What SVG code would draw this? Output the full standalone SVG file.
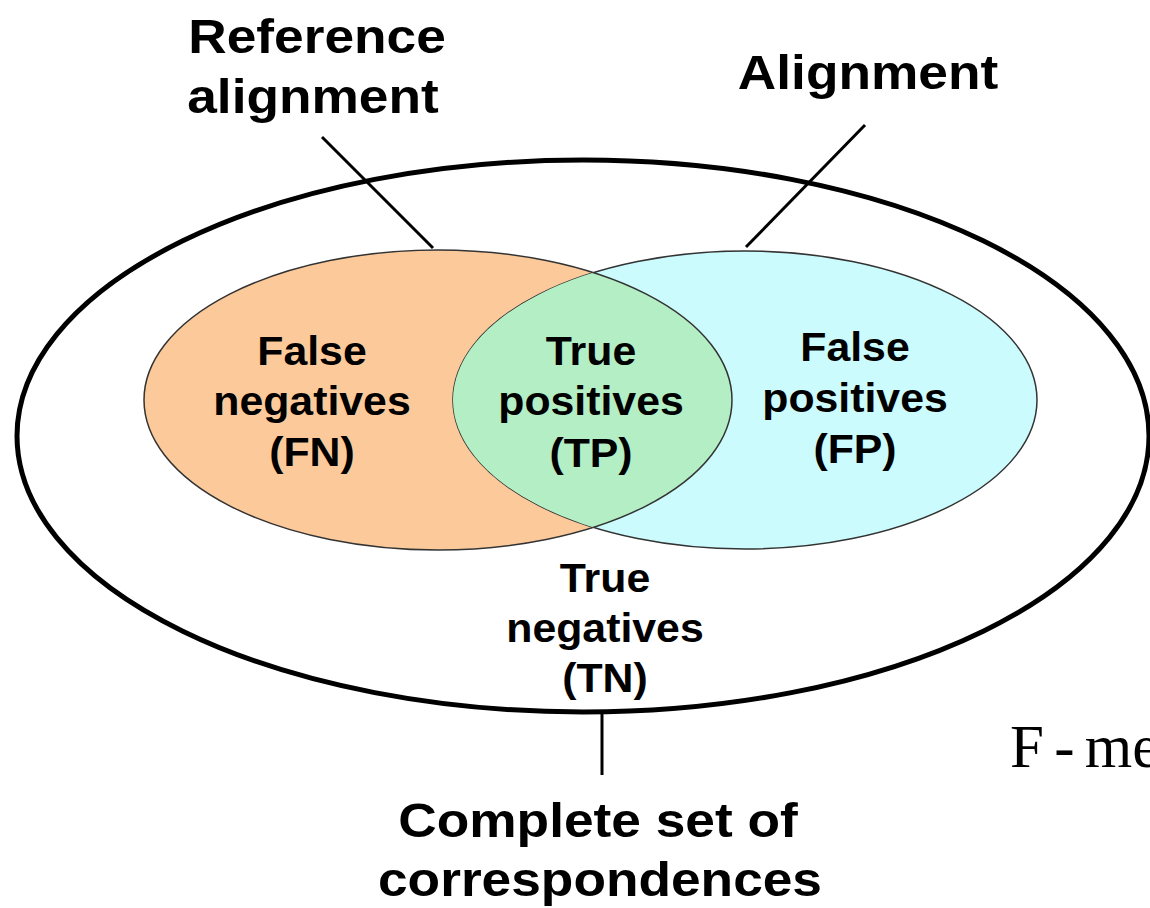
<svg xmlns="http://www.w3.org/2000/svg" width="1150" height="908" viewBox="0 0 1150 908">
<style>
.lbl{font-family:"Liberation Sans",Arial,sans-serif;font-weight:bold;fill:#000;text-anchor:middle}
.big{font-size:48px}
.mid{font-size:40px}
.set{stroke:#333;stroke-width:1.5}
.lead{stroke:#000;stroke-width:3;fill:none}
</style>
<defs>
<clipPath id="cyanClip"><ellipse cx="745" cy="400" rx="292" ry="149"/></clipPath>
</defs>
<rect width="1150" height="908" fill="#fff"/>
<g id="universe">
<ellipse cx="583" cy="436" rx="566" ry="276" fill="#fff" stroke="#000" stroke-width="5"/>
</g>
<g id="reference-set">
<ellipse cx="438" cy="400" rx="294" ry="150" fill="#FCCA9A" class="set"/>
</g>
<g id="alignment-set">
<ellipse cx="745" cy="400" rx="292" ry="149" fill="#CCFBFD" class="set"/>
</g>
<g id="intersection">
<ellipse cx="438" cy="400" rx="294" ry="150" fill="#B3EEC5" clip-path="url(#cyanClip)"/>
<ellipse cx="438" cy="400" rx="294" ry="150" fill="none" class="set" clip-path="url(#cyanClip)"/>
</g>
<g id="connectors">
<line class="lead" x1="322" y1="137" x2="433" y2="248"/>
<line class="lead" x1="865" y1="125" x2="746" y2="247"/>
<line class="lead" x1="602" y1="712" x2="602" y2="775"/>
</g>
<g id="label-reference">
<text class="lbl big" transform="translate(317,53) scale(1.11,1)">Reference</text>
<text class="lbl big" transform="translate(313,113) scale(1.11,1)">alignment</text>
</g>
<g id="label-alignment">
<text class="lbl big" transform="translate(868,89) scale(1.11,1)">Alignment</text>
</g>
<g id="label-fn">
<text class="lbl mid" transform="translate(312,365) scale(1.07,1)">False</text>
<text class="lbl mid" transform="translate(312,415) scale(1.07,1)">negatives</text>
<text class="lbl mid" transform="translate(312,466) scale(1.07,1)">(FN)</text>
</g>
<g id="label-tp">
<text class="lbl mid" transform="translate(591,365) scale(1.07,1)">True</text>
<text class="lbl mid" transform="translate(591,415) scale(1.07,1)">positives</text>
<text class="lbl mid" transform="translate(591,467) scale(1.07,1)">(TP)</text>
</g>
<g id="label-fp">
<text class="lbl mid" transform="translate(855,361) scale(1.07,1)">False</text>
<text class="lbl mid" transform="translate(855,412) scale(1.07,1)">positives</text>
<text class="lbl mid" transform="translate(855,463) scale(1.07,1)">(FP)</text>
</g>
<g id="label-tn">
<text class="lbl mid" transform="translate(605,592) scale(1.07,1)">True</text>
<text class="lbl mid" transform="translate(605,642) scale(1.07,1)">negatives</text>
<text class="lbl mid" transform="translate(605,692) scale(1.07,1)">(TN)</text>
</g>
<g id="label-complete">
<text class="lbl big" transform="translate(598,837) scale(1.11,1)">Complete set of</text>
<text class="lbl big" transform="translate(600,896) scale(1.11,1)">correspondences</text>
</g>
<g id="formula">
<text x="1010" y="767" font-family="'Liberation Serif','Times New Roman',serif" font-size="61" word-spacing="-5" fill="#000">F - me</text>
</g>
</svg>
